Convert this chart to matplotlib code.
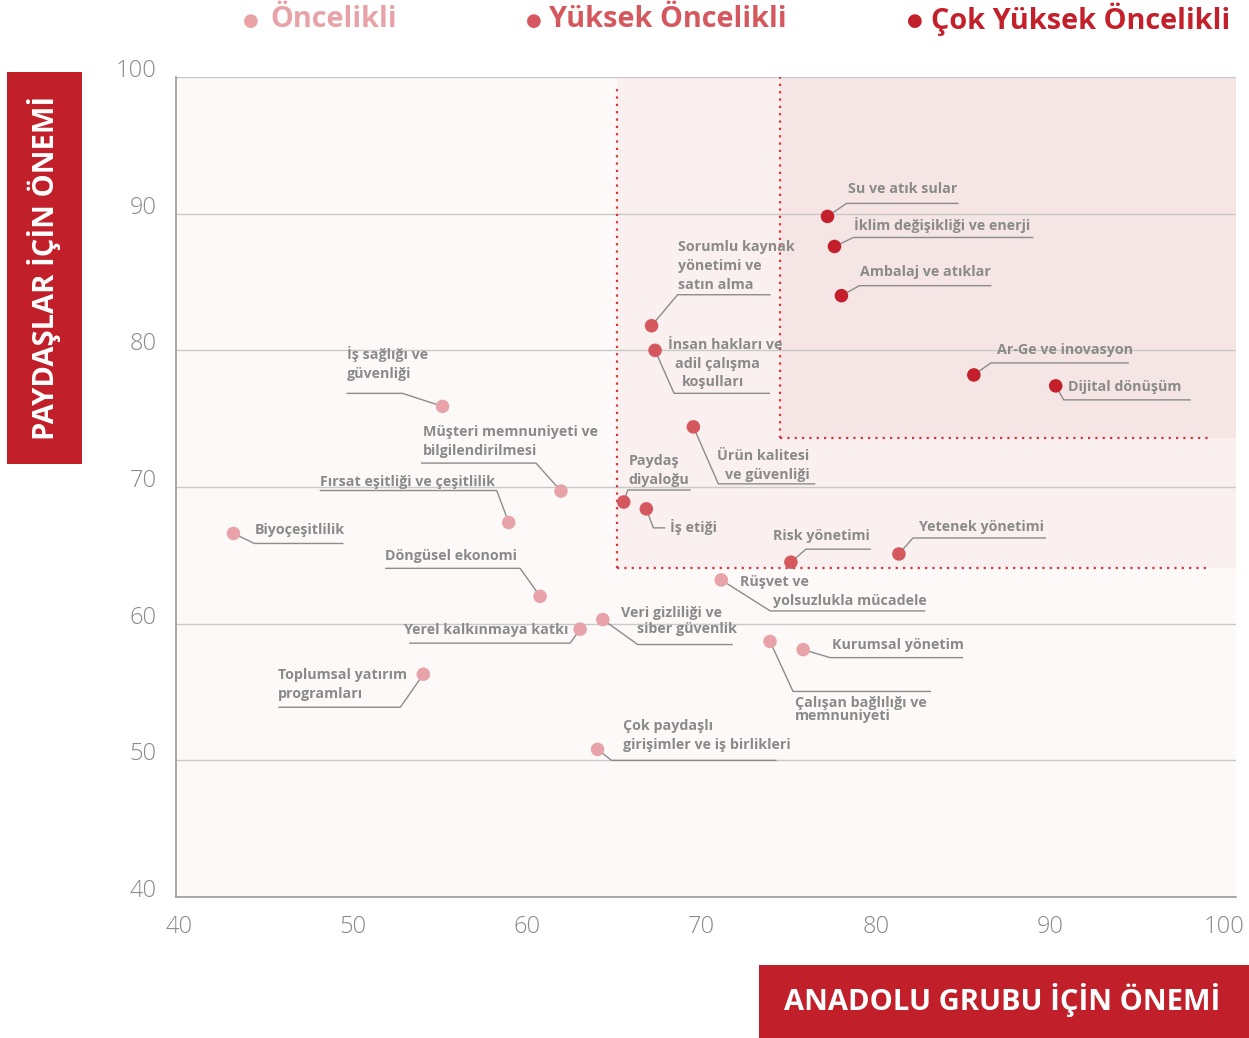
import matplotlib
matplotlib.use("Agg")
import matplotlib.pyplot as plt
from matplotlib.patches import Rectangle
from matplotlib.transforms import ScaledTranslation
import numpy as np

# ---------------- data ----------------
topics = [
    "Su ve atık sular", "İklim değişikliği ve enerji", "Ambalaj ve atıklar",
    "Ar-Ge ve inovasyon", "Dijital dönüşüm",
    "Sorumlu kaynak\nyönetimi ve\nsatın alma", "İnsan hakları ve\nadil çalışma\nkoşulları",
    "Ürün kalitesi\nve güvenliği", "Paydaş\ndiyaloğu", "İş etiği", "Risk yönetimi",
    "Yetenek yönetimi", "Rüşvet ve\nyolsuzlukla mücadele", "Kurumsal yönetim",
    "Çalışan bağlılığı ve\nmemnuniyeti", "Çok paydaşlı\ngirişimler ve iş birlikleri",
    "Veri gizliliği ve\nsiber güvenlik", "Yerel kalkınmaya katkı",
    "Toplumsal yatırım\nprogramları", "Döngüsel ekonomi", "Biyoçeşitlilik",
    "Fırsat eşitliği ve çeşitlilik", "Müşteri memnuniyeti ve\nbilgilendirilmesi",
    "İş sağlığı ve\ngüvenliği",
]
group_importance = [77.4, 77.8, 78.2, 85.8, 90.5,
                    67.3, 67.5, 69.7, 65.7, 67.0, 75.3, 81.5,
                    71.3, 76.0, 74.1, 64.2, 64.5, 63.2, 54.2, 60.9, 43.3, 59.1, 62.1, 55.3]
stakeholder_importance = [89.8, 87.6, 84.0, 78.2, 77.4,
                          81.8, 80.0, 74.4, 68.9, 68.4, 64.5, 65.1,
                          63.2, 58.1, 58.7, 50.8, 60.3, 59.6, 56.3, 62.0, 66.6, 67.4, 69.7, 75.9]
priority = [2, 2, 2, 2, 2,
            1, 1, 1, 1, 1, 1, 1,
            0, 0, 0, 0, 0, 0, 0, 0, 0, 0, 0, 0]
priority_names = ["Öncelikli", "Yüksek Öncelikli", "Çok Yüksek Öncelikli"]
x_ticks = [40, 50, 60, 70, 80, 90, 100]
y_ticks = [40, 50, 60, 70, 80, 90, 100]
high_zone = (65.3, 64.1)       # lower-left corner of "Yüksek Öncelikli" zone
very_high_zone = (74.7, 73.6)  # lower-left corner of "Çok Yüksek Öncelikli" zone

# ---------------- style / layout ----------------
colors = ["#E8A3A8", "#D6585F", "#C4202B"]
RED = "#C1202A"
GRAY_TXT = "#8A8A8A"
plt.rcParams['font.family'] = ['Open Sans', 'DejaVu Sans']

# label layout: leader polyline offsets (px, y down) and per-line text offsets
layout = [
    ([(0, 0), (19, -13), (131, -13)], [(20, -27)]),
    ([(0, 0), (19, -9), (199, -9)], [(20, -21)]),
    ([(0, 0), (18, -10), (150, -10)], [(19, -24)]),
    ([(0, 0), (17, -12), (155, -12)], [(23, -25)]),
    ([(0, 0), (8, 14), (135, 14)], [(12, 1)]),
    ([(0, 0), (26, -31), (119, -31)], [(26, -79), (26, -60), (26, -41)]),
    ([(0, 0), (19, 43), (115, 43)], [(13, -5), (20, 14), (27, 32)]),
    ([(0, 0), (25, 57), (122, 57)], [(24, 29), (32, 48)]),
    ([(0, 0), (4, -12), (67, -12)], [(5, -41), (5, -22)]),
    ([(0, 0), (7, 19), (19, 19)], [(24, 18)]),
    ([(0, 0), (15, -13), (80, -13)], [(-18, -26)]),
    ([(0, 0), (14, -16), (147, -16)], [(20, -27)]),
    ([(0, 0), (49, 31), (204, 31)], [(19, 2), (52, 21)]),
    ([(0, 0), (27, 8), (160, 8)], [(29, -5)]),
    ([(0, 0), (23, 50), (161, 50)], [(25, 62), (25, 75)]),
    ([(0, 0), (14, 11), (179, 11)], [(25, -23), (25, -4)]),
    ([(0, 0), (35, 25), (130, 25)], [(18, -7), (34, 9)]),
    ([(0, 0), (-10, 14), (-171, 14)], [(-176, 1)]),
    ([(0, 0), (-23, 33), (-145, 33)], [(-145, 1), (-145, 20)]),
    ([(0, 0), (-20, -28), (-155, -28)], [(-155, -40)]),
    ([(0, 0), (21, 10), (110, 10)], [(21, -3)]),
    ([(0, 0), (-12, -32), (-189, -32)], [(-189, -41)]),
    ([(0, 0), (-25, -28), (-140, -28)], [(-138, -59), (-138, -40)]),
    ([(0, 0), (-40, -13), (-96, -13)], [(-96, -52), (-96, -32)]),
]

W, H = 1249, 1038
fig = plt.figure(figsize=(W / 100, H / 100), dpi=100)
ax = fig.add_axes([176 / W, (H - 897) / H, 1060 / W, 820 / H])
XMAX = 100.85
ax.set_xlim(40, XMAX)
ax.set_ylim(40, 100)

# backgrounds
ax.add_patch(Rectangle((40, 40), XMAX - 40, 60, facecolor="#FDF9F9", edgecolor="none", zorder=0))
ax.add_patch(Rectangle(high_zone, XMAX - high_zone[0], 100 - high_zone[1],
                       facecolor="#FAF0EF", edgecolor="none", zorder=0.1))
ax.add_patch(Rectangle(very_high_zone, XMAX - very_high_zone[0], 100 - very_high_zone[1],
                       facecolor="#F5E5E4", edgecolor="none", zorder=0.2))

# grid
for yv in y_ticks[1:]:
    ax.axhline(yv, color="#C9C9C9", lw=1.0, zorder=0.5)

# dotted zone borders
dot = dict(color="#D4343C", lw=1.6, linestyle=(0, (1, 2.3)), zorder=0.8)
ax.plot([high_zone[0], high_zone[0]], [high_zone[1], 99.2], **dot)
ax.plot([high_zone[0], 99.4], [high_zone[1], high_zone[1]], **dot)
ax.plot([very_high_zone[0], very_high_zone[0]], [very_high_zone[1], 100], **dot)
ax.plot([very_high_zone[0], 99.3], [very_high_zone[1], very_high_zone[1]], **dot)

for s in ["top", "right"]:
    ax.spines[s].set_visible(False)
for s in ["left", "bottom"]:
    ax.spines[s].set_color("#9A9A9A")
    ax.spines[s].set_linewidth(1.2)

ax.set_xticks(x_ticks)
ax.set_yticks(y_ticks)
ax.tick_params(length=0, labelsize=17, labelcolor=GRAY_TXT)
ax.tick_params(axis='x', pad=13)
ax.tick_params(axis='y', pad=14)
for lab in ax.get_xticklabels() + ax.get_yticklabels():
    lab.set_fontweight('light')
shift_up = ScaledTranslation(0, 9 / 100, fig.dpi_scale_trans)
for lab in ax.get_yticklabels():
    lab.set_transform(lab.get_transform() + shift_up)
shift_right = ScaledTranslation(3 / 100, 0, fig.dpi_scale_trans)
for lab in ax.get_xticklabels():
    lab.set_transform(lab.get_transform() + shift_right)

# points
gx = np.array(group_importance)
sy = np.array(stakeholder_importance)
pr = np.array(priority)
for p in range(3):
    m = pr == p
    ax.scatter(gx[m], sy[m], s=95, color=colors[p], edgecolor="none", zorder=5)

# labels with leader lines
inv = ax.transData.inverted()
for name, x, y, (poly, offs) in zip(topics, gx, sy, layout):
    px, py = ax.transData.transform((x, y))
    pts = inv.transform([(px + dx, py - dy) for dx, dy in poly])
    ax.plot(pts[:, 0], pts[:, 1], color="#8C8C8C", lw=1.0, zorder=4, solid_capstyle='butt')
    for line, (dx, dy) in zip(name.split("\n"), offs):
        ax.annotate(line, xy=(x, y), xytext=(dx, -dy), textcoords='offset pixels',
                    ha='left', va='center', fontsize=10.3, fontweight='bold',
                    color=GRAY_TXT, zorder=6)

# top legend
leg_pos = [(251, 270), (534, 549), (915, 931)]
for p, (bx, tx) in enumerate(leg_pos):
    fig.text(bx / W, 1 - 21 / H, "●", color=colors[p], fontsize=13, ha='center', va='center',
             family=['DejaVu Sans'])
    fig.text(tx / W, 1 - 19 / H, priority_names[p], color=colors[p], fontsize=20.8,
             fontweight='bold', ha='left', va='center')

# axis title boxes
fig.patches.append(Rectangle((7 / W, (H - 464) / H), 75 / W, 392 / H, transform=fig.transFigure,
                             facecolor=RED, edgecolor="none", figure=fig))
fig.text(44 / W, 1 - 268 / H, "PAYDAŞLAR İÇİN ÖNEMİ", rotation=90, color="white",
         fontsize=21, fontweight='bold', ha='center', va='center')
fig.patches.append(Rectangle((759 / W, 0), 490 / W, (H - 965) / H, transform=fig.transFigure,
                             facecolor=RED, edgecolor="none", figure=fig))
fig.text(1002 / W, 1 - 1000 / H, "ANADOLU GRUBU İÇİN ÖNEMİ", color="white",
         fontsize=21, fontweight='bold', ha='center', va='center')

fig.savefig("out.png", dpi=100)
